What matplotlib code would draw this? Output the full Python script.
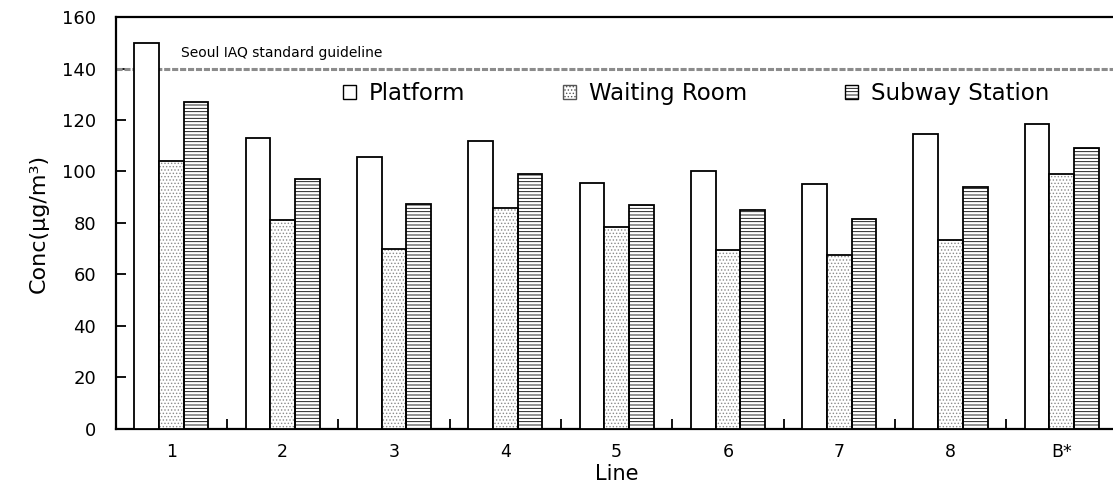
import numpy as np
import matplotlib.pyplot as plt

lines = ['1', '2', '3', '4', '5', '6', '7', '8', 'B*']
platform = [150, 113, 105.5, 112, 95.5, 100, 95, 114.5, 118.5]
waiting_room = [104, 81, 70, 86, 78.5, 69.5, 67.5, 73.5, 99]
subway_station = [127, 97, 87.5, 99, 87, 85, 81.5, 94, 109]
guideline = 140

plt.rcParams['font.family'] = ['DejaVu Sans']
plt.rcParams['hatch.linewidth'] = 0.6

fig = plt.figure(figsize=(11.13, 5.01), dpi=100)
ax = fig.add_axes([0.104, 0.144, 0.900, 0.822])

x = np.arange(len(lines))
w = 0.222

# Platform (open)
ax.bar(x - w, platform, w, color='white', edgecolor='black', linewidth=1.3,
       zorder=3)

# Waiting room (gray dots): fill with gray hatch, then outline in black
ax.bar(x, waiting_room, w, color='white', edgecolor='#8a8a8a', hatch='.....',
       linewidth=0, zorder=3)
ax.bar(x, waiting_room, w, color='none', edgecolor='black', linewidth=1.3,
       zorder=4)

# Subway station (horizontal lines)
ax.bar(x + w, subway_station, w, color='white', edgecolor='black',
       hatch='-----', linewidth=1.3, zorder=3)

# legend handles
h1 = plt.Rectangle((0, 0), 1, 1, facecolor='white', edgecolor='black',
                   linewidth=1.0)
h2 = plt.Rectangle((0, 0), 1, 1, facecolor='white', edgecolor='#555555',
                   hatch='.....', linewidth=1.0)
h3 = plt.Rectangle((0, 0), 1, 1, facecolor='white', edgecolor='black',
                   hatch='-----', linewidth=1.0)

ax.axhline(guideline, color='#8c8c8c', linestyle=(0, (2, 0.6)),
           linewidth=2.2, zorder=2)
ax.text(0.09, 146, 'Seoul IAQ standard guideline', fontsize=10,
        va='center', ha='left')

leg = ax.legend([h1, h2, h3], ['Platform', 'Waiting Room', 'Subway Station'],
                ncol=3, frameon=False, fontsize=16.5,
                loc='center left', bbox_to_anchor=(0.227, 0.815),
                handlelength=0.55, handleheight=0.55, handletextpad=0.55,
                columnspacing=4.3, borderaxespad=0, borderpad=0)

ax.set_xlim(-0.5, len(lines) - 0.5)
ax.set_ylim(0, 160)
ax.set_yticks(np.arange(0, 161, 20))
ax.set_xticks(x)
ax.set_xticklabels(lines)
ax.set_xticks(x[:-1] + 0.5, minor=True)
ax.tick_params(axis='x', which='major', length=0, pad=10, labelsize=12.5)
ax.tick_params(axis='x', which='minor', direction='in', length=7, width=1.3)
ax.tick_params(axis='y', direction='in', length=7, width=1.3, labelsize=13,
               pad=14)

for s in ax.spines.values():
    s.set_linewidth(1.6)

ax.set_ylabel('Conc(μg/m³)', fontsize=16, labelpad=10)
ax.set_xlabel('Line', fontsize=15, labelpad=2)

fig.savefig('out.png', dpi=100)
